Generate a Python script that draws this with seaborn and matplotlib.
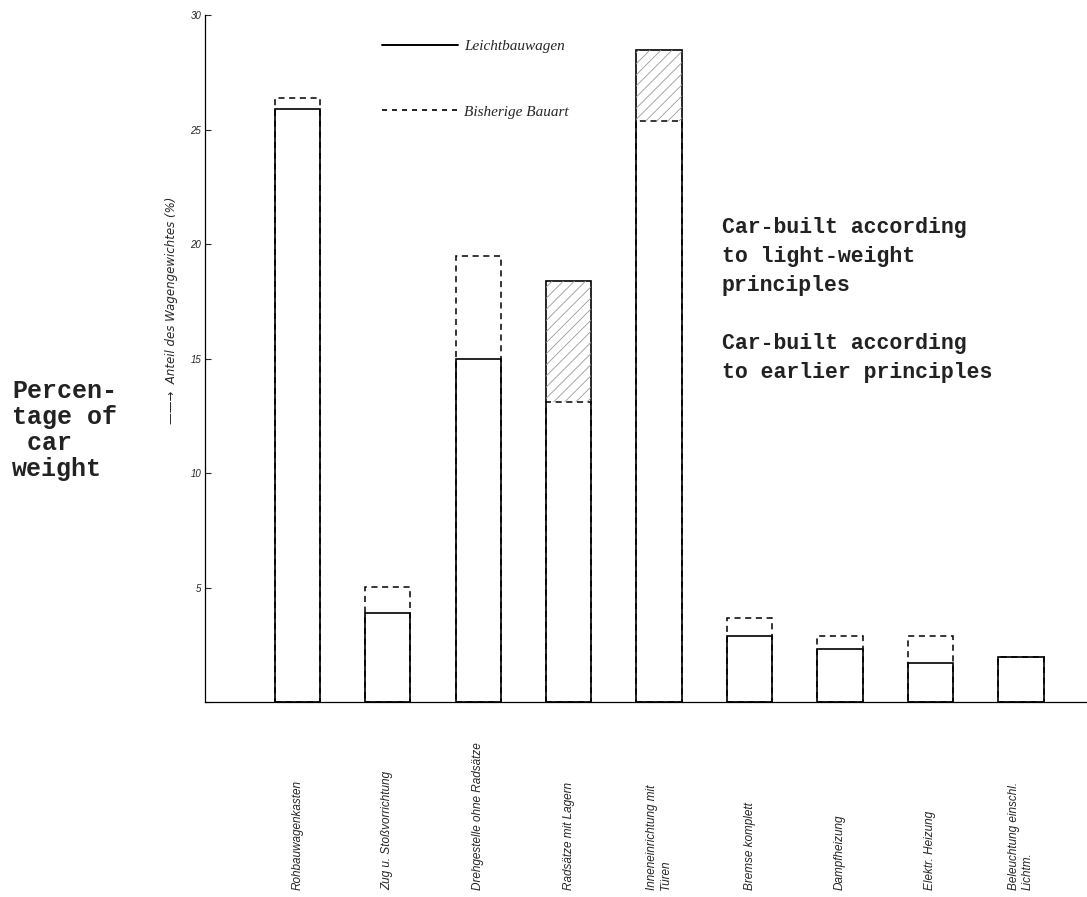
import matplotlib
matplotlib.use("Agg")
import matplotlib.pyplot as plt
from matplotlib.lines import Line2D
import seaborn as sns
import numpy as np

# weight share per component group (percent of car weight)
components = [
    "Rohbauwagenkasten",
    "Zug u. Stoßvorrichtung",
    "Drehgestelle ohne Radsätze",
    "Radsätze mit Lagern",
    "Inneneinrichtung mit\nTüren",
    "Bremse komplett",
    "Dampfheizung",
    "Elektr. Heizung",
    "Beleuchtung einschl.\nLichtm.",
]
leichtbau = [25.9, 3.9, 15.0, 18.4, 28.5, 2.9, 2.35, 1.7, 2.0]
bisherig = [26.4, 5.05, 19.5, 13.1, 25.4, 3.7, 2.9, 2.9, 2.0]
y_ticks = [0, 5, 10, 15, 20, 25, 30]

sns.set_style("ticks")
plt.rcParams["hatch.linewidth"] = 0.6
plt.rcParams["font.family"] = ["Liberation Sans", "DejaVu Sans"]

fig = plt.figure(figsize=(10.87, 8.97), dpi=100)
ax = fig.add_axes([0.189, 0.217, 0.811, 0.766])

# earlier design: dashed outlines
sns.barplot(x=components, y=bisherig, ax=ax, fill=False, color="black",
            width=0.5, linestyle=(0, (4, 3)), linewidth=1.1)
# light-weight design: solid outlines on top
sns.barplot(x=components, y=leichtbau, ax=ax, fill=False, color="black",
            width=0.5, linewidth=1.2)

# shaded extra weight where the light-weight car is heavier
pos = np.arange(len(components))
lb = np.array(leichtbau)
bh = np.array(bisherig)
extra = lb > bh
ax.bar(pos[extra], (lb - bh)[extra], bottom=bh[extra], width=0.5,
       fill=False, hatch="///", edgecolor="#9a9a9a", linewidth=0)

ax.set_xlim(-1.015, 8.73)
ax.set_ylim(0, 30)
ax.set_yticks(y_ticks)
ax.set_yticklabels([str(t) if t else "" for t in y_ticks],
                   fontsize=7, fontstyle="italic")
ax.tick_params(axis="y", direction="in", length=4, width=0.8, pad=3)
ax.tick_params(axis="x", length=0, pad=135)
for lbl in ax.get_xticklabels():
    lbl.set_rotation(90)
    lbl.set_va("bottom")
    lbl.set_ha("center")
    lbl.set_multialignment("left")
    lbl.set_fontsize(8.5)
    lbl.set_fontstyle("italic")

sns.despine(ax=ax)
for side in ["left", "bottom"]:
    ax.spines[side].set_linewidth(0.9)
    ax.spines[side].set_color("black")

ax.set_ylabel("——→  Anteil des Wagengewichtes (%)", fontsize=8.5,
              fontstyle="italic", family=["DejaVu Sans"])
ax.yaxis.set_label_coords(-0.031, 0.57)

handles = [Line2D([], [], color="black", lw=1.4),
           Line2D([], [], color="black", lw=1.2, linestyle=(0, (3, 3)))]
ax.legend(handles, ["Leichtbauwagen", "Bisherige Bauart"], loc="upper left",
          bbox_to_anchor=(0.2, 0.965), frameon=False, handlelength=5,
          labelspacing=3.4, handletextpad=0.4, borderpad=0, borderaxespad=0,
          prop={"family": "Liberation Serif", "style": "italic", "size": 11})

mono = {"family": "Liberation Mono", "weight": "bold", "color": "#222222"}
fig.text(0.011, 0.578, "Percen-\ntage of\n car\nweight", fontsize=18,
         va="top", ha="left", linespacing=1.12, **mono)
fig.text(0.664, 0.758,
         "Car-built according\nto light-weight\nprinciples\n\n"
         "Car-built according\nto earlier principles",
         fontsize=15.5, va="top", ha="left", linespacing=1.5, **mono)

fig.savefig("out.png", dpi=100)
